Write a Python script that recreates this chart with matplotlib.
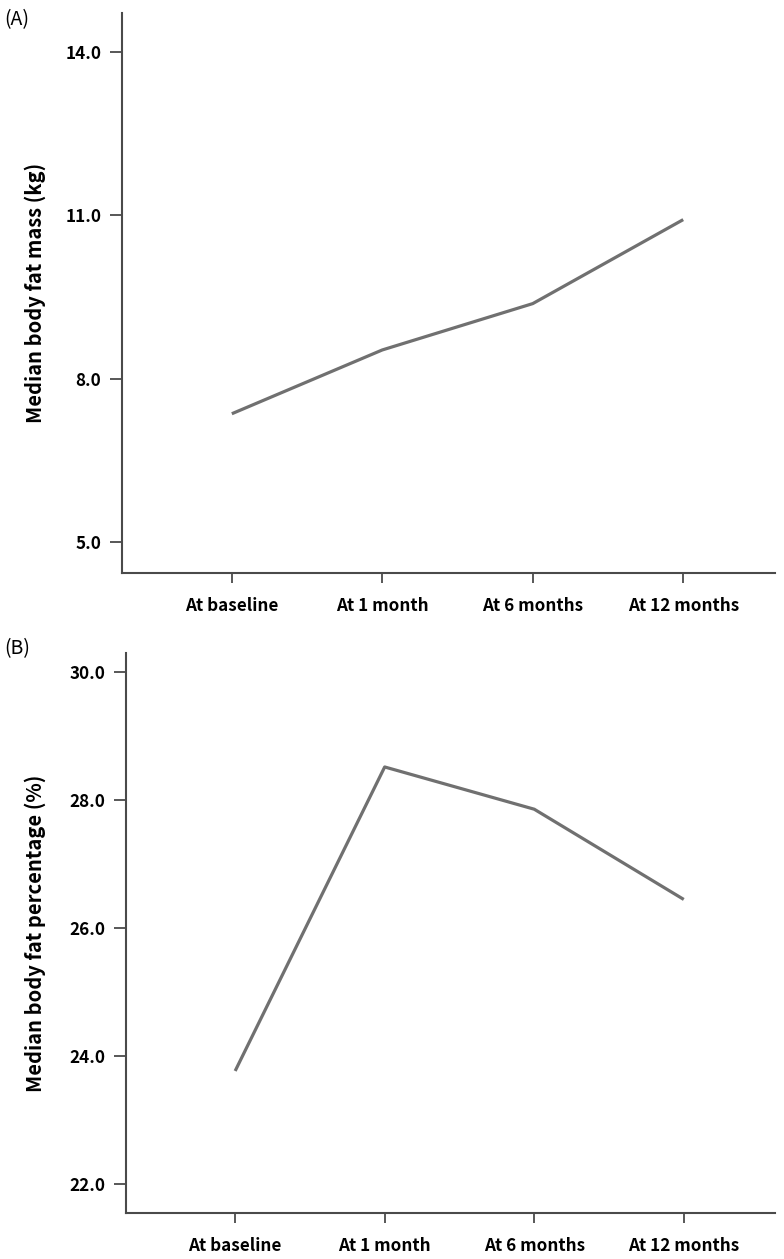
import matplotlib
matplotlib.use("Agg")
import matplotlib.pyplot as plt

plt.rcParams['font.family'] = ['Noto Sans CJK KR', 'DejaVu Sans']

categories = ["At baseline", "At 1 month", "At 6 months", "At 12 months"]
fat_mass = [7.36, 8.53, 9.38, 10.92]
fat_pct = [23.77, 28.52, 27.86, 26.45]

yticks_a = [5.0, 8.0, 11.0, 14.0]
yticks_b = [22.0, 24.0, 26.0, 28.0, 30.0]

fig = plt.figure(figsize=(7.84, 12.59), dpi=100)
axA = fig.add_axes([0.1556, 0.5449, 0.8329, 0.4448])
axB = fig.add_axes([0.1607, 0.0365, 0.8278, 0.4448])

line_color = "#707070"
spine_color = "#4a4a4a"

def style(ax, yvals, ylim, ticks, ylabel, labx):
    x = list(range(len(categories)))
    ax.plot(x, yvals, color=line_color, lw=2.3, solid_capstyle='butt')
    ax.set_xlim(-0.73, 3.61)
    ax.set_ylim(*ylim)
    ax.set_xticks(x)
    ax.set_xticklabels(categories, fontsize=12.3, fontweight='bold')
    ax.set_yticks(ticks)
    ax.set_yticklabels([f"{t:.1f}" for t in ticks], fontsize=12.3, fontweight='bold')
    for s in ['top', 'right']:
        ax.spines[s].set_visible(False)
    for s in ['left', 'bottom']:
        ax.spines[s].set_color(spine_color)
        ax.spines[s].set_linewidth(1.5)
    ax.tick_params(axis='y', direction='out', length=9, width=1.3, color=spine_color, pad=6)
    ax.tick_params(axis='x', direction='out', length=7, width=1.3, color=spine_color, pad=10)
    ax.set_ylabel(ylabel, fontsize=14.5, fontweight='bold')
    ax.yaxis.set_label_coords(labx, 0.5)

style(axA, fat_mass, (4.44, 14.71), yticks_a, "Median body fat mass (kg)", -0.117)
style(axB, fat_pct, (21.55, 30.3), yticks_b, "Median body fat percentage (%)", -0.124)

fig.text(0.006, 0.993, "(A)", fontsize=14, va='top', ha='left')
fig.text(0.006, 0.493, "(B)", fontsize=14, va='top', ha='left')

fig.savefig("out.png", dpi=100)
